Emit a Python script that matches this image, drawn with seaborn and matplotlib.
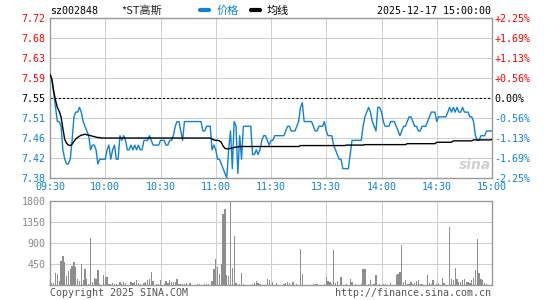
import numpy as np
import pandas as pd
import matplotlib
matplotlib.use("Agg")
import matplotlib.pyplot as plt
from matplotlib.lines import Line2D
import seaborn as sns

# ---------------- data ----------------
prev_close = 7.55
stock_code = "sz002848"
stock_name = "*ST高斯"
timestamp = "2025-12-17 15:00:00"
time_labels = ["09:30", "10:00", "10:30", "11:00", "11:30", "13:30", "14:00", "14:30", "15:00"]
price_labels = ["7.72", "7.68", "7.63", "7.59", "7.55", "7.51", "7.46", "7.42", "7.38"]
pct_labels = ["+2.25%", "+1.69%", "+1.13%", "+0.56%", "0.00%", "-0.56%", "-1.13%", "-1.69%", "-2.25%"]
pct_values = [2.25, 1.6875, 1.125, 0.5625, 0.0, -0.5625, -1.125, -1.6875, -2.25]
vol_ticks = [450, 900, 1350, 1800]

price = [
    7.60, 7.59, 7.56, 7.53, 7.50, 7.50, 7.49, 7.44, 7.42, 7.41,
    7.41, 7.42, 7.46, 7.51, 7.52, 7.52, 7.53, 7.52, 7.50, 7.49,
    7.48, 7.47, 7.44, 7.45, 7.45, 7.44, 7.41, 7.42, 7.42, 7.42,
    7.42, 7.44, 7.45, 7.42, 7.44, 7.45, 7.42, 7.42, 7.47, 7.46,
    7.47, 7.46, 7.44, 7.44, 7.45, 7.44, 7.45, 7.44, 7.45, 7.44,
    7.44, 7.46, 7.46, 7.46, 7.47, 7.46, 7.45, 7.45, 7.45, 7.45,
    7.46, 7.46, 7.46, 7.45, 7.45, 7.46, 7.46, 7.47, 7.49, 7.50,
    7.50, 7.48, 7.46, 7.50, 7.50, 7.50, 7.50, 7.50, 7.50, 7.50,
    7.50, 7.50, 7.50, 7.48, 7.48, 7.49, 7.49, 7.49, 7.44, 7.45,
    7.44, 7.42, 7.42, 7.41, 7.40, 7.39, 7.38, 7.44, 7.48, 7.40,
    7.50, 7.49, 7.39, 7.47, 7.42, 7.49, 7.49, 7.49, 7.49, 7.49,
    7.43, 7.43, 7.44, 7.43, 7.44, 7.46, 7.47, 7.47, 7.46, 7.45,
    7.46, 7.46, 7.47, 7.47, 7.47, 7.47, 7.47, 7.47, 7.48, 7.49,
    7.49, 7.48, 7.48, 7.48, 7.49, 7.50, 7.53, 7.54, 7.50, 7.50,
    7.50, 7.50, 7.50, 7.49, 7.48, 7.48, 7.49, 7.49, 7.49, 7.50,
    7.48, 7.47, 7.47, 7.47, 7.45, 7.44, 7.43, 7.42, 7.42, 7.40,
    7.40, 7.40, 7.40, 7.43, 7.46, 7.46, 7.46, 7.46, 7.46, 7.46,
    7.49, 7.51, 7.52, 7.53, 7.52, 7.50, 7.49, 7.48, 7.53, 7.53,
    7.52, 7.50, 7.49, 7.49, 7.49, 7.50, 7.50, 7.50, 7.49, 7.48,
    7.47, 7.48, 7.49, 7.49, 7.50, 7.51, 7.51, 7.50, 7.49, 7.49,
    7.48, 7.48, 7.49, 7.49, 7.49, 7.50, 7.51, 7.52, 7.52, 7.52,
    7.50, 7.51, 7.51, 7.51, 7.51, 7.51, 7.52, 7.53, 7.52, 7.53,
    7.52, 7.53, 7.52, 7.52, 7.53, 7.52, 7.52, 7.52, 7.51, 7.51,
    7.50, 7.47, 7.46, 7.46, 7.47, 7.47, 7.47, 7.48, 7.48, 7.48,
    7.48,
]

avg_price = [
    7.600, 7.590, 7.565, 7.545, 7.530, 7.522, 7.510, 7.485, 7.462, 7.454,
    7.450, 7.449, 7.452, 7.458, 7.463, 7.466, 7.469, 7.471, 7.472, 7.473,
    7.472, 7.471, 7.470, 7.469, 7.468, 7.467, 7.466, 7.466, 7.465, 7.465,
    7.465, 7.465, 7.465, 7.465, 7.465, 7.465, 7.465, 7.465, 7.465, 7.465,
    7.465, 7.465, 7.465, 7.465, 7.465, 7.465, 7.465, 7.465, 7.465, 7.465,
    7.465, 7.465, 7.465, 7.465, 7.465, 7.465, 7.465, 7.465, 7.465, 7.465,
    7.465, 7.465, 7.465, 7.465, 7.465, 7.465, 7.465, 7.465, 7.465, 7.465,
    7.465, 7.465, 7.465, 7.465, 7.465, 7.465, 7.465, 7.465, 7.465, 7.465,
    7.465, 7.465, 7.465, 7.465, 7.465, 7.465, 7.465, 7.465, 7.463, 7.461,
    7.460, 7.460, 7.459, 7.456, 7.448, 7.443, 7.442, 7.442, 7.443, 7.444,
    7.445, 7.446, 7.446, 7.447, 7.447, 7.447, 7.447, 7.447, 7.447, 7.447,
    7.447, 7.447, 7.447, 7.447, 7.447, 7.447, 7.447, 7.447, 7.447, 7.447,
    7.447, 7.447, 7.447, 7.447, 7.447, 7.447, 7.447, 7.447, 7.447, 7.447,
    7.447, 7.447, 7.447, 7.447, 7.447, 7.447, 7.449, 7.449, 7.449, 7.449,
    7.449, 7.449, 7.449, 7.449, 7.449, 7.449, 7.449, 7.449, 7.449, 7.449,
    7.449, 7.449, 7.449, 7.449, 7.449, 7.449, 7.449, 7.449, 7.449, 7.449,
    7.449, 7.450, 7.450, 7.450, 7.450, 7.450, 7.450, 7.450, 7.450, 7.450,
    7.450, 7.451, 7.451, 7.451, 7.451, 7.451, 7.451, 7.451, 7.451, 7.451,
    7.451, 7.451, 7.451, 7.451, 7.451, 7.451, 7.451, 7.451, 7.451, 7.451,
    7.451, 7.451, 7.451, 7.451, 7.453, 7.453, 7.453, 7.453, 7.453, 7.453,
    7.453, 7.453, 7.453, 7.453, 7.453, 7.453, 7.453, 7.453, 7.453, 7.453,
    7.456, 7.456, 7.456, 7.456, 7.456, 7.456, 7.456, 7.456, 7.456, 7.459,
    7.459, 7.459, 7.459, 7.459, 7.459, 7.459, 7.459, 7.459, 7.459, 7.459,
    7.461, 7.461, 7.461, 7.461, 7.461, 7.461, 7.461, 7.461, 7.461, 7.461,
    7.462,
]

volume = [
    86, 36, 50, 264, 228, 86, 514, 621, 500, 193,
    300, 336, 407, 500, 386, 121, 86, 443, 100, 350,
    136, 29, 1014, 71, 157, 121, 328, 29, 0, 214,
    171, 178, 29, 29, 43, 29, 20, 0, 71, 29,
    57, 43, 10, 0, 71, 36, 57, 107, 43, 15,
    0, 50, 71, 100, 121, 286, 86, 0, 29, 29,
    107, 0, 15, 86, 50, 114, 71, 71, 57, 136,
    29, 29, 29, 29, 50, 10, 43, 0, 0, 0,
    29, 29, 0, 0, 29, 29, 29, 0, 86, 336,
    550, 393, 243, 443, 1514, 1635, 214, 193, 2400, 371,
    1050, 50, 0, 29, 264, 29, 0, 0, 0, 0,
    29, 50, 93, 50, 29, 0, 0, 0, 136, 100,
    0, 64, 0, 43, 0, 0, 0, 29, 43, 71,
    50, 0, 71, 0, 29, 0, 778, 243, 0, 0,
    0, 0, 0, 29, 29, 29, 0, 0, 0, 29,
    178, 86, 71, 29, 757, 50, 86, 0, 178, 0,
    0, 29, 0, 136, 64, 0, 29, 0, 0, 29,
    350, 336, 0, 29, 100, 0, 29, 221, 0, 29,
    0, 29, 29, 0, 0, 43, 0, 0, 214, 243,
    286, 864, 64, 100, 29, 29, 71, 29, 50, 86,
    107, 29, 29, 0, 0, 207, 43, 29, 114, 0,
    29, 50, 0, 157, 50, 0, 0, 1250, 121, 100,
    357, 121, 71, 71, 107, 121, 71, 64, 50, 100,
    157, 314, 993, 264, 136, 100, 43, 29, 0, 0,
    0,
]

# ---------------- style ----------------
sns.set_style("white")
plt.rcParams["font.family"] = ["DejaVu Sans Mono", "Noto Sans CJK SC"]
plt.rcParams["lines.scale_dashes"] = False

BLUE = "#1181d2"
RED = "#ff0000"
GRID = "#cfcfcf"
FRAME = "#9a9a9a"
BARC = "#8e8e8e"
MONO = 7.2

W, H = 545, 300
def fx(x):
    return x / W
def fy(y):
    return 1 - y / H

minutes = np.arange(len(price))
df = pd.DataFrame({"minute": minutes, "price": price, "avg": avg_price, "volume": volume})

fig = plt.figure(figsize=(W / 100, H / 100), dpi=100)
ax = fig.add_axes([fx(50), fy(178), (492 - 50) / W, 160 / H])
axv = fig.add_axes([fx(50), fy(285), (492 - 50) / W, 84 / H])

levels = [prev_close * (1 + p / 100) for p in pct_values]
lo, hi = levels[-1], levels[0]

sns.lineplot(data=df, x="minute", y="price", ax=ax, color=BLUE, lw=1.0, zorder=3)
sns.lineplot(data=df, x="minute", y="avg", ax=ax, color="black", lw=1.0, zorder=4)

sns.barplot(data=df, x="minute", y="volume", ax=axv, native_scale=True,
            color=BARC, saturation=1, width=0.7, errorbar=None, linewidth=0,
            antialiased=False, zorder=3)

for a in (ax, axv):
    a.set_xlim(0, 240)
    a.set_xlabel("")
    a.set_ylabel("")
    a.tick_params(length=0)
    for s in a.spines.values():
        s.set_color(FRAME)
        s.set_linewidth(1.0)

ax.set_ylim(lo, hi)
ax.set_yticks(levels)
ax.set_yticklabels(price_labels, fontsize=MONO)
ax.tick_params(axis="y", pad=3)
for lab, p in zip(ax.get_yticklabels(), pct_values):
    lab.set_color(RED if p > 0 else ("black" if p == 0 else BLUE))

ax.set_xticks(range(0, 241, 30))
ax.set_xticklabels(time_labels, fontsize=MONO, color=BLUE)
ax.tick_params(axis="x", pad=3)

axv.set_ylim(0, 1800)
axv.set_yticks(vol_ticks)
axv.set_yticklabels([str(v) for v in vol_ticks], fontsize=MONO, color="#888888")
axv.tick_params(axis="y", pad=3)
axv.set_xticks(range(0, 241, 30))
axv.tick_params(axis="x", labelbottom=False)

# grid via the axes' own tick grid
for a in (ax, axv):
    a.set_axisbelow(True)
    a.grid(True, which="major", color=GRID, lw=0.75, ls="-")

ax.axhline(prev_close, color="black", lw=0.8, ls=(0, (1.5, 1.5)), zorder=2.2)

tw = ax.twinx()
tw.set_ylim(lo, hi)
tw.set_yticks(levels)
tw.set_yticklabels(pct_labels, fontsize=MONO)
tw.tick_params(length=0, pad=1.5)
tw.grid(False)
for s in tw.spines.values():
    s.set_visible(False)
for lab, p in zip(tw.get_yticklabels(), pct_values):
    lab.set_color(RED if p > 0 else ("black" if p == 0 else BLUE))

# header
fig.text(fx(50), fy(11), stock_code, fontsize=MONO, color="black", ha="left", va="center")
fig.text(fx(121), fy(11), stock_name, fontsize=8, color="#222222", ha="left", va="center",
         family=["Noto Sans CJK SC", "DejaVu Sans"])
fig.text(fx(491), fy(11), timestamp, fontsize=MONO, color="black", ha="right", va="center")

handles = [Line2D([], [], color=BLUE, lw=3), Line2D([], [], color="black", lw=3)]
leg = fig.legend(handles, ["价格", "均线"], loc="center left", bbox_to_anchor=(fx(200), fy(11)),
                 ncol=2, frameon=False, handlelength=0.85, handletextpad=0.6, columnspacing=1.1,
                 borderpad=0, borderaxespad=0, prop={"family": ["Noto Sans CJK SC"], "size": 8})
leg.get_texts()[0].set_color(BLUE)
leg.get_texts()[1].set_color("black")

# footer
fig.text(fx(50), fy(293), "Copyright 2025 SINA.COM", fontsize=MONO, color="#555555", ha="left", va="center")
fig.text(fx(491), fy(293), "http://finance.sina.com.cn", fontsize=MONO, color="#555555", ha="right", va="center")

# watermark
fig.text(fx(475), fy(165), "sina", fontsize=10, color="#c4c4c4", style="italic", weight="bold",
         ha="center", va="center", family="DejaVu Sans", alpha=0.8)

fig.savefig("out.png", dpi=100)
